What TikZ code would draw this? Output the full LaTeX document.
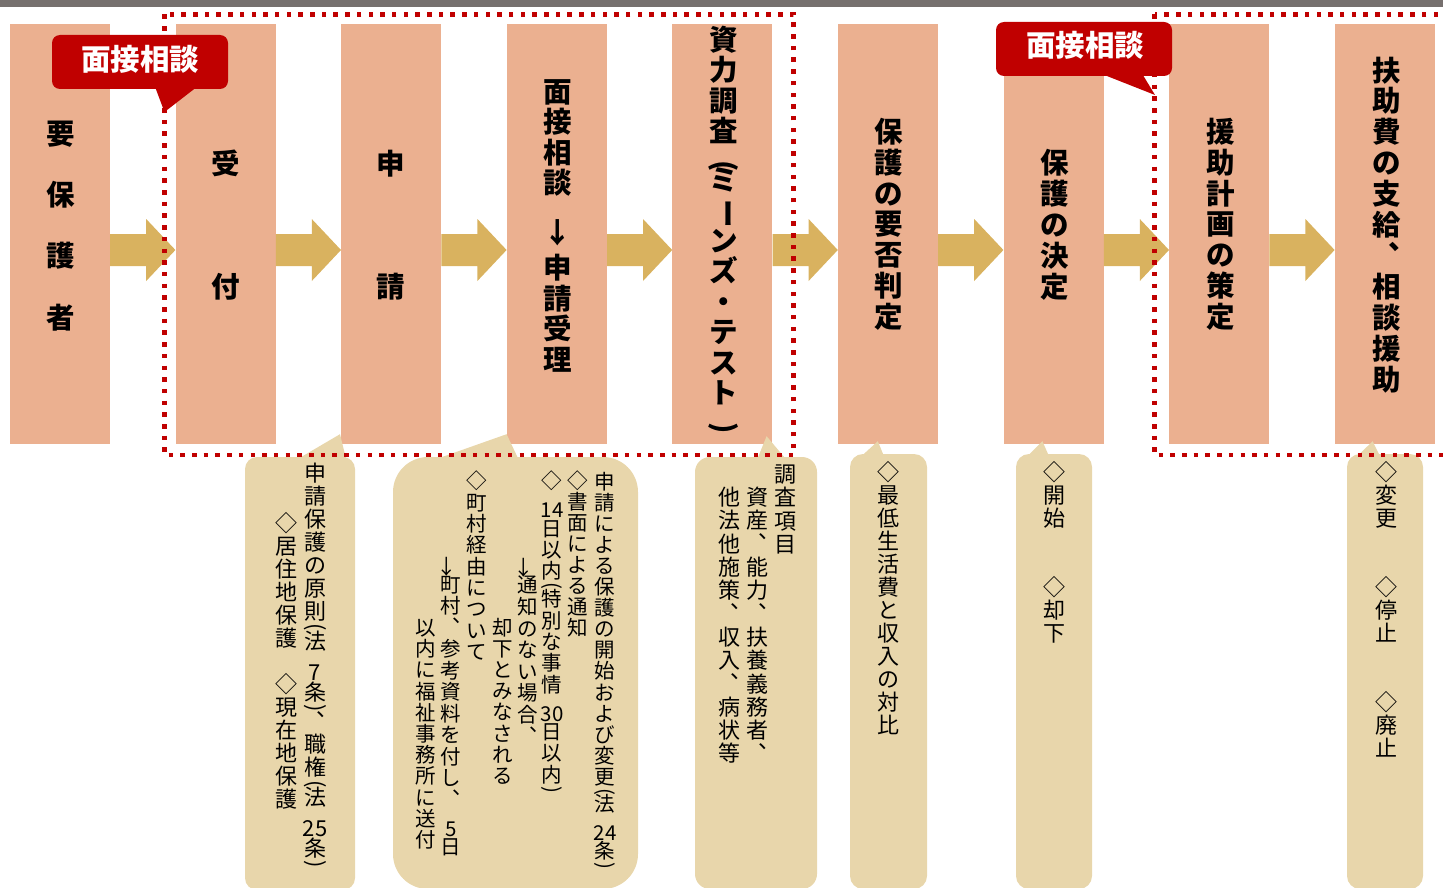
\documentclass[tikz,border=0pt]{standalone}
\usepackage{fontspec}
\setmainfont{Noto Sans CJK JP}
\usepackage{graphicx}
\usetikzlibrary{calc}

\definecolor{topbar}{HTML}{76706E}
\definecolor{salmon}{HTML}{EBB090}
\definecolor{gold}{HTML}{D9B25F}
\definecolor{beige}{HTML}{E8D6AB}
\definecolor{darkred}{HTML}{C00000}

\newdimen\vtp
\newdimen\vtw
\def\vtparh{0.3}\def\vtparo{0}
\def\vtarrh{0.75}\def\vtarro{0.05}\def\vtarrx{-0.45em}
\def\vtdig{0.7}
\newcommand\vtcell[3]{%
  \hbox to\vtw{\hss
    \vrule height\dimexpr#1\vtp/2\relax depth\dimexpr#1\vtp/2\relax width0pt
    \smash{\raisebox{\dimexpr-0.38em-(#2\vtp)\relax}{#3}}%
  \hss}}
\newcommand\vtcomma{\makebox[1em][l]{\hspace{0.55em}\raisebox{0.62em}{、}}}

\ExplSyntaxOn
\cs_new_protected:Npn \vt_item:n #1
 {
  \str_case:nnF {#1}
   {
    {(} { \vtcell{\vtparh}{\vtparo}{\rotatebox[origin=c]{-90}{(}} }
    {)} { \vtcell{\vtparh}{\vtparo}{\rotatebox[origin=c]{-90}{)}} }
    {_} { \vtcell{0.5}{0}{} }
    {、} { \vtcell{1}{0}{\vtcomma} }
    {ー} { \vtcell{1}{0}{\rotatebox[origin=c]{-90}{ー}} }
    {↓} { \vtcell{\vtarrh}{\vtarro}{\hspace{\vtarrx}↓} }
   }
   {
    \regex_match:nnTF { \A [0-9]+ \Z } {#1}
     { \vtcell{\vtdig}{0}{#1} }
     { \vtcell{1}{0}{#1} }
   }
 }
\NewDocumentCommand \vt { m m }
 {
  \vtp=#1pt
  \vtw=1.1em
  \vbox:n { \offinterlineskip \tl_map_inline:nn {#2} { \vt_item:n {##1} } }
 }
\ExplSyntaxOff

\tikzset{
  stepbox/.style={fill=salmon, draw=none, inner sep=0pt, minimum width=100pt, minimum height=420pt},
  vtxt/.style={inner sep=0pt, anchor=north},
  boxtxt/.style={vtxt, font=\fontsize{28.5}{30}\selectfont\bfseries},
  ctxt/.style={vtxt, font=\fontsize{22}{24}\selectfont},
  ctxtB/.style={vtxt, font=\fontsize{20.5}{22}\selectfont},
  callout/.style={fill=beige, draw=none, inner sep=0pt},
  redbox/.style={fill=darkred, draw=none, inner sep=0pt, rounded corners=8pt, minimum width=176pt, minimum height=54pt},
  redtxt/.style={inner sep=0pt, text=white, font=\fontsize{29.5}{31}\selectfont\bfseries},
  reddash/.style={draw=darkred, line width=4.5pt, dash pattern=on 4.5pt off 7.2pt},
}

\begin{document}
\begin{tikzpicture}[x=1pt,y=-1pt]
\useasboundingbox (0,0) rectangle (1443,888);
\fill[topbar] (0,0) rectangle (1443,7);

% process boxes
\foreach \i in {0,...,8} \node[stepbox] (b\i) at ({60+165.6*\i},234) {};

% callouts
\node[callout, rounded corners=12pt, minimum width=110pt, minimum height=433pt] (cA) at (300,673.5) {};
\node[callout, rounded corners=35pt, minimum width=245pt, minimum height=432pt] (cB) at (515.5,673) {};
\node[callout, rounded corners=15pt, minimum width=122pt, minimum height=432pt] (cC) at (756,673) {};
\node[callout, rounded corners=13pt, minimum width=77pt, minimum height=435pt] (cD) at (888.5,671.5) {};
\node[callout, rounded corners=13pt, minimum width=76pt, minimum height=435pt] (cE) at (1054,671.5) {};
\node[callout, rounded corners=13pt, minimum width=76pt, minimum height=435pt] (cF) at (1385,671.5) {};
\fill[beige] ($(cA.north west)+(55,1)$) -- ($(b2.south west)+(-1,-10)$) -- ($(cA.north west)+(101,1)$) -- cycle;
\fill[beige] ($(cB.north west)+(47,1)$) -- ($(b3.south west)+(0,-10)$) -- ($(cB.north west)+(125,1)$) -- cycle;
\fill[beige] ($(cC.north west)+(63,1)$) -- ($(b4.south east)+(-6,-8)$) -- ($(cC.north west)+(90,1)$) -- cycle;
\fill[beige] ($(cD.north west)+(12,2)$) -- ($(b5.south west)+(40,-3)$) -- ($(cD.north west)+(34,2)$) -- cycle;
\fill[beige] ($(cE.north west)+(12,2)$) -- ($(b6.south west)+(39,-3)$) -- ($(cE.north west)+(33,2)$) -- cycle;
\fill[beige] ($(cF.north west)+(11,2)$) -- ($(b8.south west)+(38,-3)$) -- ($(cF.north west)+(33,2)$) -- cycle;

% box texts
\node[boxtxt] (t0) at (61,117.7) {\vt{30.67}{要　保　護　者}};
\node[boxtxt] (t1) at (226,147.6) {\vt{30.75}{受　　　付}};
\node[boxtxt] (t2) at (391,147.6) {\vt{30.75}{申　　　請}};
\node[boxtxt] (t3) at (558,75.75) {\def\vtarrh{0.787}\def\vtarro{-0.24}\def\vtarrx{0em}\vt{30.5}{面接相談　↓申請受理}};
\node[boxtxt] (t4) at (724,23.75) {\def\vtparh{0.6}\def\vtparo{0.3}\vt{30.5}{資力調査(ミーンズ・テスト)}};
\node[boxtxt] (t5) at (889,116.3) {\vt{30.75}{保護の要否判定}};
\node[boxtxt] (t6) at (1055,147) {\vt{30.9}{保護の決定}};
\node[boxtxt] (t7) at (1221,116.3) {\vt{30.75}{援助計画の策定}};
\node[boxtxt] (t8) at (1387,54.5) {\vt{30.95}{扶助費の支給、相談援助}};

% callout texts
\node[ctxt] (a1) at (315,461.5) {\vt{23}{申請保護の原則(法_{7}条)、職権(法_{25}条)}};
\node[ctxt] (a2) at (286,511) {\vt{23}{◇居住地保護　◇現在地保護}};
\node[ctxtB] (bb1) at (605,470.5) {\vt{21.1}{申請による保護の開始および変更(法_{24}条)}};
\node[ctxtB] (bb2) at (578,470.5) {\vt{21}{◇書面による通知}};
\node[ctxtB] (bb3) at (552,470.3) {\vt{21.4}{◇_{14}日以内(特別な事情_{30}日以内)}};
\node[ctxtB] (bb4) at (528,558) {\vt{21.6}{↓通知のない場合、}};
\node[ctxtB] (bb5) at (503,617) {\vt{21.1}{却下とみなされる}};
\node[ctxtB] (bb6) at (477,470.3) {\vt{21.3}{◇町村経由について}};
\node[ctxtB] (bb7) at (451,557.6) {\vt{21.5}{↓町村、参考資料を付し、_{5}日}};
\node[ctxtB] (bb8) at (426,617) {\vt{21.2}{以内に福祉事務所に送付}};
\node[ctxt] (cc1) at (785,462.4) {\vt{23.3}{調査項目}};
\node[ctxt] (cc2) at (757,485.4) {\vt{23.3}{資産、能力、扶養義務者、}};
\node[ctxt] (cc3) at (729,485.4) {\vt{23.3}{他法他施策、収入、病状等}};
\node[ctxt] (dd1) at (888,460.5) {\vt{23}{◇最低生活費と収入の対比}};
\node[ctxt] (ee1) at (1054,460.5) {\vt{23}{◇開始　　◇却下}};
\node[ctxt] (ff1) at (1386,460.5) {\vt{23}{◇変更　　◇停止　　◇廃止}};

% block arrows
\foreach \i/\j in {0/1,1/2,2/3,3/4,4/5,5/6,6/7,7/8}
  \fill[gold] (b\i.east) -- ($(b\i.east)+(36,0)$) -- ($(b\i.east)+(36,-15)$)
    -- ($(b\j.west)+(0,16)$) -- ($(b\i.east)+(36,47)$) -- ($(b\i.east)+(36,32)$)
    -- ($(b\i.east)+(0,32)$) -- cycle;

% dotted frames
\draw[reddash] (164.5,14.5) rectangle (793.5,455);
\draw[reddash] (1154.5,14.5) rectangle (1470,455);

% red labels
\node[redbox] (L1) at (140,62) {};
\coordinate (L1tip) at (164.5,112);
\fill[darkred] ($(L1.south west)+(103,-3)$) -- (L1tip) -- ($(L1.south west)+(146,-3)$) -- cycle;
\node[redtxt] (L1t) at (140,59.5) {面接相談};
\node[redbox] (L2) at (1084,49) {};
\coordinate (L2tip) at (1155,95);
\fill[darkred] ($(L2.south west)+(104,-3)$) -- (L2tip) -- ($(L2.south west)+(146,-3)$) -- cycle;
\node[redtxt] (L2t) at (1085,45) {面接相談};
\end{tikzpicture}
\end{document}
